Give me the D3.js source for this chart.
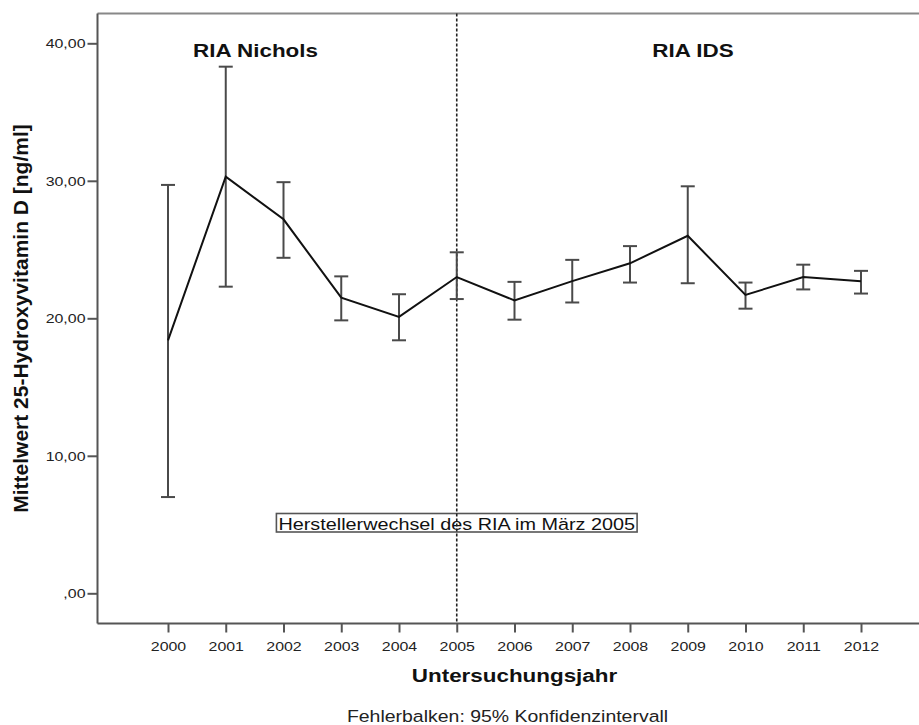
<!DOCTYPE html>
<html>
<head>
<meta charset="utf-8">
<script src="https://cdn.jsdelivr.net/npm/d3@7/dist/d3.min.js"></script>
<style>
  html, body { margin: 0; padding: 0; background: #fff; }
  svg { display: block; font-family: "Liberation Sans", Arial, sans-serif; }
</style>
</head>
<body>
<svg id="chart" width="919" height="725"></svg>
<script>
// Jahresmittelwerte 25-OH-Vitamin D mit 95%-Konfidenzintervall
const years = ["2000","2001","2002","2003","2004","2005","2006","2007","2008","2009","2010","2011","2012"];
const means = [18.4, 30.3, 27.2, 21.5, 20.1, 23.0, 21.3, 22.7, 24.0, 26.0, 21.7, 23.0, 22.7];
const lower = [7.0, 22.3, 24.4, 19.85, 18.4, 21.4, 19.9, 21.15, 22.6, 22.55, 20.7, 22.1, 21.8];
const upper = [29.7, 38.3, 29.9, 23.05, 21.75, 24.8, 22.65, 24.25, 25.25, 29.6, 22.6, 23.9, 23.45];
const yTicks = [0, 10, 20, 30, 40];
const groupLabels = ["RIA Nichols", "RIA IDS"];
const switchYear = "2005";

const svg = d3.select("#chart");
const plotLeft = 97.5, plotRight = 919, plotTop = 13.5, plotBottom = 623.5;
const sx = 1.18;               // breitere Laufweite der Beschriftung
const ink = "#111";

const x = d3.scalePoint().domain(years).range([168, 861]);
const y = d3.scaleLinear().domain([0, 40]).range([593.3, 43.3]);

const axisColor = "#555";

// Hilfsfunktion: horizontal gestreckter Text
function label(parent, cx, cy, txt, size, opts = {}) {
  return parent.append("text")
    .attr("transform", `translate(${cx},${cy}) scale(${sx},1)`)
    .attr("text-anchor", opts.anchor || "middle")
    .attr("font-size", size)
    .attr("font-weight", opts.bold ? "bold" : "normal")
    .attr("fill", opts.fill || ink)
    .text(txt);
}

// Rahmen oben
svg.append("line")
  .attr("x1", plotLeft).attr("x2", plotRight).attr("y1", plotTop).attr("y2", plotTop)
  .attr("stroke", "#888").attr("stroke-width", 2);

// y-Achse
const yAxis = svg.append("g")
  .attr("transform", `translate(${plotLeft},0)`)
  .call(d3.axisLeft(y).tickValues(yTicks).tickSize(10).tickSizeOuter(0)
    .tickFormat(d => d === 0 ? ",00" : d3.format(".2f")(d).replace(".", ",")));
yAxis.select(".domain").attr("d", `M0,${plotTop}V${plotBottom}`).attr("stroke", axisColor).attr("stroke-width", 2);
yAxis.selectAll(".tick line").attr("stroke", axisColor).attr("stroke-width", 2);
yAxis.selectAll(".tick text")
  .attr("x", 0).attr("dy", null).attr("y", 4.5)
  .attr("transform", `translate(-12,0) scale(${sx},1)`)
  .attr("font-size", 13.5).attr("fill", "#222")
  .attr("font-family", "Liberation Sans, Arial, sans-serif");

// x-Achse
const xAxis = svg.append("g")
  .attr("transform", `translate(0,${plotBottom})`)
  .call(d3.axisBottom(x).tickSize(9).tickSizeOuter(0));
xAxis.select(".domain").attr("d", `M${plotLeft},0H${plotRight}`).attr("stroke", axisColor).attr("stroke-width", 2);
xAxis.selectAll(".tick line").attr("stroke", axisColor).attr("stroke-width", 2);
xAxis.selectAll(".tick text")
  .attr("y", 0).attr("dy", null)
  .attr("transform", `translate(0,27) scale(${sx},1)`)
  .attr("font-size", 13.5).attr("fill", "#222")
  .attr("font-family", "Liberation Sans, Arial, sans-serif");

// Anmerkung im Diagramm (Rahmen ohne Füllung, Trennlinie bleibt sichtbar)
const noteBase = 529.5;
const note = svg.append("g");
const noteText = label(note, x(switchYear), noteBase, "Herstellerwechsel des RIA im März 2005", 16.8);
const noteW = noteText.node().getBBox().width * sx;
note.insert("rect", "text")
  .attr("x", x(switchYear) - noteW / 2 - 2).attr("y", noteBase - 16)
  .attr("width", noteW + 4).attr("height", 18.5)
  .attr("fill", "none").attr("stroke", "#555").attr("stroke-width", 1.6);

// Trennlinie beim Herstellerwechsel
svg.append("line")
  .attr("x1", x(switchYear)).attr("x2", x(switchYear))
  .attr("y1", plotTop).attr("y2", plotBottom)
  .attr("stroke", "#222").attr("stroke-width", 1.6).attr("stroke-dasharray", "3,2");

// Fehlerbalken
const cap = 7;
const bars = svg.append("g").attr("stroke", "#4a4a4a").attr("stroke-width", 2);
years.forEach((yr, i) => {
  const cx = x(yr);
  bars.append("line").attr("x1", cx).attr("x2", cx).attr("y1", y(lower[i])).attr("y2", y(upper[i]));
  bars.append("line").attr("x1", cx - cap).attr("x2", cx + cap).attr("y1", y(upper[i])).attr("y2", y(upper[i]));
  bars.append("line").attr("x1", cx - cap).attr("x2", cx + cap).attr("y1", y(lower[i])).attr("y2", y(lower[i]));
});

// Mittelwertlinie
const line = d3.line().x((d, i) => x(years[i])).y(d => y(d));
svg.append("path").datum(means)
  .attr("d", line).attr("fill", "none")
  .attr("stroke", "#111").attr("stroke-width", 2);

// Gruppenbeschriftungen
label(svg, 255.5, 57, groupLabels[0], 19, { bold: true });
label(svg, 693, 57, groupLabels[1], 19, { bold: true });

// Achsentitel
label(svg, 514.5, 682, "Untersuchungsjahr", 19, { bold: true });
svg.append("text").attr("transform", "translate(28,318.5) rotate(-90)").attr("text-anchor", "middle")
  .attr("font-size", 21).attr("font-weight", "bold").attr("fill", ink)
  .text("Mittelwert 25-Hydroxyvitamin D [ng/ml]");

// Fußnote
label(svg, 507.5, 722, "Fehlerbalken: 95% Konfidenzintervall", 16.5, { fill: "#222" });
</script>
</body>
</html>
